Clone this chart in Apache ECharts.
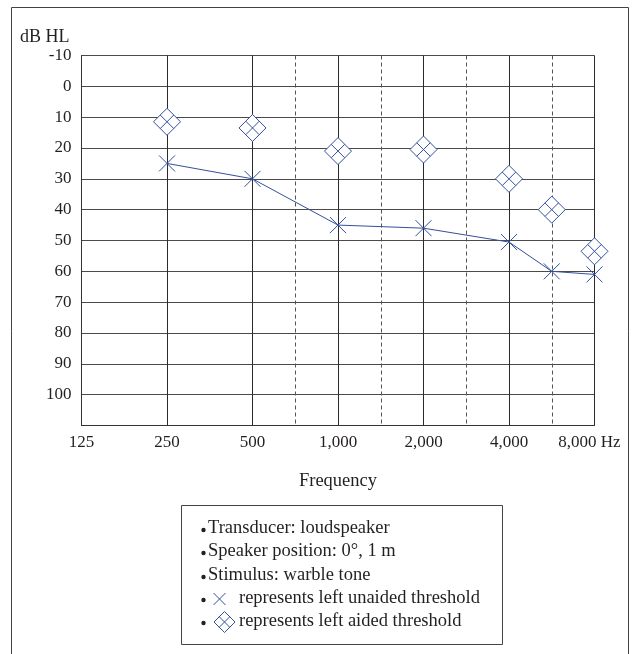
<!DOCTYPE html>
<html>
<head>
<meta charset="utf-8">
<script src="https://cdn.jsdelivr.net/npm/echarts@6/dist/echarts.min.js"></script>
<style>
html,body{margin:0;padding:0;background:#fff;}
#chart{width:632px;height:654px;}
</style>
</head>
<body>
<div id="chart"></div>
<script>
// Half-octave category positions (audiogram style)
var freqCategories = ['125','177','250','354','500','750','1000','1500','2000','3000','4000','6000','8000'];
var xTickLabels    = ['125','','250','','500','','1,000','','2,000','','4,000','','8,000 Hz'];
var dashedFreqs    = ['750','1500','3000','6000'];
var yTickLabels    = [-10,0,10,20,30,40,50,60,70,80,90,100];

var unaidedFreqs = ['250','500','1000','2000','4000','6000','8000'];
var unaidedDb    = [25, 30, 45, 46, 50.5, 60, 61];
var aidedFreqs   = ['250','500','1000','2000','4000','6000','8000'];
var aidedDb      = [11.5, 13.5, 21, 20.5, 30, 40, 53.5];

var legendLines = [
  'Transducer: loudspeaker',
  'Speaker position: 0°, 1 m',
  'Stimulus: warble tone',
  'represents left unaided threshold',
  'represents left aided threshold'
];

var BLUE = '#34509e';
var FONT = "'Liberation Serif', 'DejaVu Serif', serif";
var TXT = '#231f20';

var X_PATH = 'path://M0,0L16,16M16,0L0,16';
var DIAMOND_PATH = 'path://M10,0L20,10L10,20L0,10Z M5,5L15,15 M15,5L5,15';

var chart = echarts.init(document.getElementById('chart'));

var legendY = [528, 551, 575, 598, 621];
var graphics = [
  {type:'rect', shape:{x:11.5, y:7.5, width:617, height:700}, style:{fill:'none', stroke:'#444', lineWidth:1}, silent:true},
  {type:'text', x:20, y:37, style:{text:'dB HL', font:'18px ' + FONT, fill:TXT, verticalAlign:'middle'}},
  {type:'rect', shape:{x:181.5, y:505.5, width:321, height:139}, style:{fill:'#fff', stroke:'#444', lineWidth:1}, silent:true}
];
legendLines.forEach(function(t, i){
  graphics.push({type:'circle', shape:{cx:203.5, cy:legendY[i] + 2, r:2.2}, style:{fill:TXT}});
  var tx = i < 3 ? 208 : 239;
  graphics.push({type:'text', x:tx, y:legendY[i], style:{text:t, font:'18.5px ' + FONT, fill:TXT, align:'left', verticalAlign:'middle'}});
});
// legend symbols
var lx = 219.5, ly = legendY[3] + 1;
graphics.push({type:'line', shape:{x1:lx-6, y1:ly-6, x2:lx+6, y2:ly+6}, style:{stroke:BLUE, lineWidth:1}});
graphics.push({type:'line', shape:{x1:lx+6, y1:ly-6, x2:lx-6, y2:ly+6}, style:{stroke:BLUE, lineWidth:1}});
var dx = 224.5, dy = legendY[4] + 1, r = 10.5;
graphics.push({type:'polygon', shape:{points:[[dx, dy-r],[dx+r, dy],[dx, dy+r],[dx-r, dy]]}, style:{fill:'none', stroke:BLUE, lineWidth:1}});
graphics.push({type:'line', shape:{x1:dx-r/2, y1:dy-r/2, x2:dx+r/2, y2:dy+r/2}, style:{stroke:BLUE, lineWidth:1}});
graphics.push({type:'line', shape:{x1:dx+r/2, y1:dy-r/2, x2:dx-r/2, y2:dy+r/2}, style:{stroke:BLUE, lineWidth:1}});

var option = {
  backgroundColor:'#fff',
  animation:false,
  grid:{left:81.5, top:55.5, width:513, height:370, containLabel:false},
  xAxis:{
    type:'category',
    data:freqCategories,
    boundaryGap:false,
    name:'Frequency',
    nameLocation:'middle',
    nameGap:46,
    nameTextStyle:{fontFamily:FONT, fontSize:18.5, color:TXT},
    axisLine:{show:true, onZero:false, lineStyle:{color:'#333', width:1}},
    axisTick:{show:false},
    axisLabel:{
      interval:0, margin:9, fontFamily:FONT, fontSize:17, color:TXT,
      formatter:function(v, i){ var s = xTickLabels[i]; return i === freqCategories.length - 1 ? '{last|' + s + '}' : s; },
      rich:{last:{fontFamily:FONT, fontSize:17, color:TXT, padding:[0,10,0,0]}}
    },
    splitLine:{show:true, interval:function(i){ return xTickLabels[i] !== ''; }, lineStyle:{color:'#2a2a2a', width:1}}
  },
  yAxis:{
    type:'value',
    inverse:true,
    min:-10, max:110, interval:10,
    axisLine:{show:true, lineStyle:{color:'#333', width:1}},
    axisTick:{show:false},
    axisLabel:{margin:10, fontFamily:FONT, fontSize:17, color:TXT,
      formatter:function(v){ return yTickLabels.indexOf(v) >= 0 ? String(v) : ''; }},
    splitLine:{show:true, lineStyle:{color:'#4a4a4a', width:1}}
  },
  series:[
    {
      name:'unaided', type:'line',
      data:unaidedFreqs.map(function(f, i){ return [f, unaidedDb[i]]; }),
      symbol:X_PATH, symbolSize:16,
      itemStyle:{color:'#fff', borderColor:BLUE, borderWidth:1},
      lineStyle:{color:BLUE, width:1},
      z:3,
      markLine:{
        silent:true, symbol:['none','none'], label:{show:false},
        lineStyle:{type:[4,3], color:'#555', width:1},
        data:dashedFreqs.map(function(f){ return {xAxis:f}; }),
        z:1
      }
    },
    {
      name:'aided', type:'scatter',
      data:aidedFreqs.map(function(f, i){ return [f, aidedDb[i]]; }),
      symbol:DIAMOND_PATH, symbolSize:27,
      itemStyle:{color:'#fff', borderColor:BLUE, borderWidth:1, opacity:1},
      z:4
    }
  ],
  graphic:graphics
};
chart.setOption(option);
</script>
</body>
</html>
